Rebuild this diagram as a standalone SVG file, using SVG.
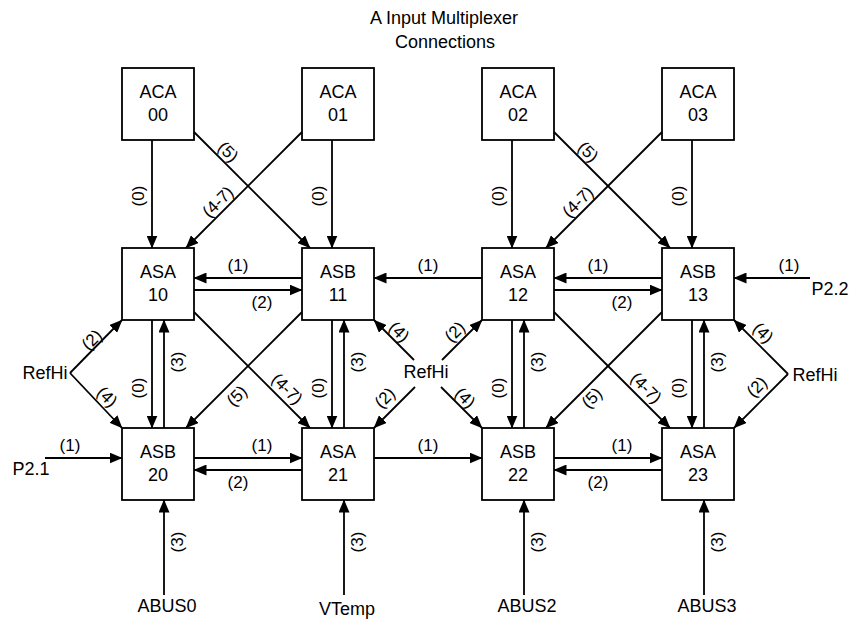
<svg xmlns="http://www.w3.org/2000/svg" width="852" height="623" viewBox="0 0 852 623">
<style>
.box{fill:#fff;stroke:#000;stroke-width:1.8}
.nt{font-family:"Liberation Sans",Arial,sans-serif;font-size:18px;fill:#000;text-anchor:middle;dominant-baseline:central}
.lb{font-family:"Liberation Sans",Arial,sans-serif;font-size:17px;fill:#000;text-anchor:middle;dominant-baseline:central}
.c{stroke:#000;stroke-width:1.8;fill:none;marker-end:url(#ah)}
</style>
<defs>
<marker id="ah" markerUnits="userSpaceOnUse" viewBox="0 0 13 11" refX="12.5" refY="5.5" markerWidth="13" markerHeight="11" orient="auto">
<path d="M0,0 L13,5.5 L0,11 z" fill="#000"/>
</marker>
</defs>
<rect width="852" height="623" fill="#fff"/>
<g id="title">
<text class="nt" x="444" y="18">A Input Multiplexer</text>
<text class="nt" x="445" y="42">Connections</text>
</g>
<g id="connectors">
<line class="c" x1="152" y1="140" x2="152" y2="248"/>
<line class="c" x1="332" y1="140" x2="332" y2="248"/>
<line class="c" x1="512" y1="140" x2="512" y2="248"/>
<line class="c" x1="692" y1="140" x2="692" y2="248"/>
<line class="c" x1="194" y1="132" x2="310" y2="248"/>
<line class="c" x1="302" y1="132" x2="186" y2="248"/>
<line class="c" x1="554" y1="132" x2="670" y2="248"/>
<line class="c" x1="662" y1="132" x2="546" y2="248"/>
<line class="c" x1="302" y1="278" x2="194" y2="278"/>
<line class="c" x1="194" y1="290" x2="302" y2="290"/>
<line class="c" x1="482" y1="278" x2="374" y2="278"/>
<line class="c" x1="662" y1="278" x2="554" y2="278"/>
<line class="c" x1="554" y1="290" x2="662" y2="290"/>
<line class="c" x1="810" y1="278" x2="734" y2="278"/>
<line class="c" x1="152" y1="320" x2="152" y2="428"/>
<line class="c" x1="332" y1="320" x2="332" y2="428"/>
<line class="c" x1="512" y1="320" x2="512" y2="428"/>
<line class="c" x1="692" y1="320" x2="692" y2="428"/>
<line class="c" x1="164" y1="428" x2="164" y2="320"/>
<line class="c" x1="344" y1="428" x2="344" y2="320"/>
<line class="c" x1="524" y1="428" x2="524" y2="320"/>
<line class="c" x1="704" y1="428" x2="704" y2="320"/>
<line class="c" x1="194" y1="312" x2="310" y2="428"/>
<line class="c" x1="302" y1="312" x2="186" y2="428"/>
<line class="c" x1="554" y1="312" x2="670" y2="428"/>
<line class="c" x1="662" y1="312" x2="546" y2="428"/>
<line class="c" x1="70" y1="373" x2="122" y2="320"/>
<line class="c" x1="70" y1="373" x2="122" y2="428"/>
<line class="c" x1="414" y1="360" x2="374" y2="320"/>
<line class="c" x1="442" y1="360" x2="482" y2="320"/>
<line class="c" x1="415" y1="387" x2="374" y2="428"/>
<line class="c" x1="441" y1="387" x2="482" y2="428"/>
<line class="c" x1="788" y1="374" x2="734" y2="320"/>
<line class="c" x1="788" y1="374" x2="734" y2="428"/>
<line class="c" x1="45" y1="458" x2="122" y2="458"/>
<line class="c" x1="194" y1="458" x2="302" y2="458"/>
<line class="c" x1="302" y1="470" x2="194" y2="470"/>
<line class="c" x1="374" y1="458" x2="482" y2="458"/>
<line class="c" x1="554" y1="458" x2="662" y2="458"/>
<line class="c" x1="662" y1="470" x2="554" y2="470"/>
<line class="c" x1="164" y1="595" x2="164" y2="500"/>
<line class="c" x1="344" y1="595" x2="344" y2="500"/>
<line class="c" x1="524" y1="595" x2="524" y2="500"/>
<line class="c" x1="704" y1="595" x2="704" y2="500"/>
<g id="labels">
<text class="lb" transform="translate(138,196) rotate(-90)">(0)</text>
<text class="lb" transform="translate(318,196) rotate(-90)">(0)</text>
<text class="lb" transform="translate(498,196) rotate(-90)">(0)</text>
<text class="lb" transform="translate(678,196) rotate(-90)">(0)</text>
<text class="lb" transform="translate(228,152) rotate(45)">(5)</text>
<text class="lb" transform="translate(588,152) rotate(45)">(5)</text>
<text class="lb" transform="translate(218,202) rotate(-45)">(4-7)</text>
<text class="lb" transform="translate(578,202) rotate(-45)">(4-7)</text>
<text class="lb" x="238" y="265">(1)</text>
<text class="lb" x="262" y="302">(2)</text>
<text class="lb" x="428" y="265">(1)</text>
<text class="lb" x="598" y="265">(1)</text>
<text class="lb" x="622" y="302">(2)</text>
<text class="lb" x="789" y="265">(1)</text>
<text class="lb" transform="translate(138,388) rotate(-90)">(0)</text>
<text class="lb" transform="translate(318,388) rotate(-90)">(0)</text>
<text class="lb" transform="translate(498,388) rotate(-90)">(0)</text>
<text class="lb" transform="translate(678,388) rotate(-90)">(0)</text>
<text class="lb" transform="translate(177,362) rotate(-90)">(3)</text>
<text class="lb" transform="translate(357,362) rotate(-90)">(3)</text>
<text class="lb" transform="translate(537,362) rotate(-90)">(3)</text>
<text class="lb" transform="translate(717,362) rotate(-90)">(3)</text>
<text class="lb" transform="translate(287,389) rotate(45)">(4-7)</text>
<text class="lb" transform="translate(646,388) rotate(45)">(4-7)</text>
<text class="lb" transform="translate(237,396) rotate(-45)">(5)</text>
<text class="lb" transform="translate(592,398) rotate(-45)">(5)</text>
<text class="lb" transform="translate(92,340) rotate(-45)">(2)</text>
<text class="lb" transform="translate(107,397) rotate(45)">(4)</text>
<text class="lb" transform="translate(399,332) rotate(45)">(4)</text>
<text class="lb" transform="translate(455,332) rotate(-45)">(2)</text>
<text class="lb" transform="translate(385,398) rotate(-45)">(2)</text>
<text class="lb" transform="translate(465,398) rotate(45)">(4)</text>
<text class="lb" transform="translate(763,333) rotate(45)">(4)</text>
<text class="lb" transform="translate(757,387) rotate(-45)">(2)</text>
<text class="lb" x="70" y="445">(1)</text>
<text class="lb" x="262" y="445">(1)</text>
<text class="lb" x="238" y="482">(2)</text>
<text class="lb" x="428" y="445">(1)</text>
<text class="lb" x="622" y="445">(1)</text>
<text class="lb" x="598" y="482">(2)</text>
<text class="lb" transform="translate(177,542) rotate(-90)">(3)</text>
<text class="lb" transform="translate(357,542) rotate(-90)">(3)</text>
<text class="lb" transform="translate(537,542) rotate(-90)">(3)</text>
<text class="lb" transform="translate(717,542) rotate(-90)">(3)</text>
</g>
</g>
<g id="ACA00"><rect class="box" x="122" y="68" width="72" height="72"/><text class="nt" x="158" y="92">ACA</text><text class="nt" x="158" y="115">00</text></g>
<g id="ACA01"><rect class="box" x="302" y="68" width="72" height="72"/><text class="nt" x="338" y="92">ACA</text><text class="nt" x="338" y="115">01</text></g>
<g id="ACA02"><rect class="box" x="482" y="68" width="72" height="72"/><text class="nt" x="518" y="92">ACA</text><text class="nt" x="518" y="115">02</text></g>
<g id="ACA03"><rect class="box" x="662" y="68" width="72" height="72"/><text class="nt" x="698" y="92">ACA</text><text class="nt" x="698" y="115">03</text></g>
<g id="ASA10"><rect class="box" x="122" y="248" width="72" height="72"/><text class="nt" x="158" y="272">ASA</text><text class="nt" x="158" y="295">10</text></g>
<g id="ASB11"><rect class="box" x="302" y="248" width="72" height="72"/><text class="nt" x="338" y="272">ASB</text><text class="nt" x="338" y="295">11</text></g>
<g id="ASA12"><rect class="box" x="482" y="248" width="72" height="72"/><text class="nt" x="518" y="272">ASA</text><text class="nt" x="518" y="295">12</text></g>
<g id="ASB13"><rect class="box" x="662" y="248" width="72" height="72"/><text class="nt" x="698" y="272">ASB</text><text class="nt" x="698" y="295">13</text></g>
<g id="ASB20"><rect class="box" x="122" y="428" width="72" height="72"/><text class="nt" x="158" y="452">ASB</text><text class="nt" x="158" y="475">20</text></g>
<g id="ASA21"><rect class="box" x="302" y="428" width="72" height="72"/><text class="nt" x="338" y="452">ASA</text><text class="nt" x="338" y="475">21</text></g>
<g id="ASB22"><rect class="box" x="482" y="428" width="72" height="72"/><text class="nt" x="518" y="452">ASB</text><text class="nt" x="518" y="475">22</text></g>
<g id="ASA23"><rect class="box" x="662" y="428" width="72" height="72"/><text class="nt" x="698" y="452">ASA</text><text class="nt" x="698" y="475">23</text></g>
<g id="RefHiLeft"><text class="nt" x="45" y="373">RefHi</text></g>
<g id="RefHiMid"><text class="nt" x="426" y="372">RefHi</text></g>
<g id="RefHiRight"><text class="nt" x="815" y="375">RefHi</text></g>
<g id="P2_1"><text class="nt" x="31" y="469">P2.1</text></g>
<g id="P2_2"><text class="nt" x="830" y="289">P2.2</text></g>
<g id="ABUS0"><text class="nt" x="167" y="606">ABUS0</text></g>
<g id="VTemp"><text class="nt" x="347" y="609">VTemp</text></g>
<g id="ABUS2"><text class="nt" x="527" y="606">ABUS2</text></g>
<g id="ABUS3"><text class="nt" x="707" y="606">ABUS3</text></g>
</svg>
